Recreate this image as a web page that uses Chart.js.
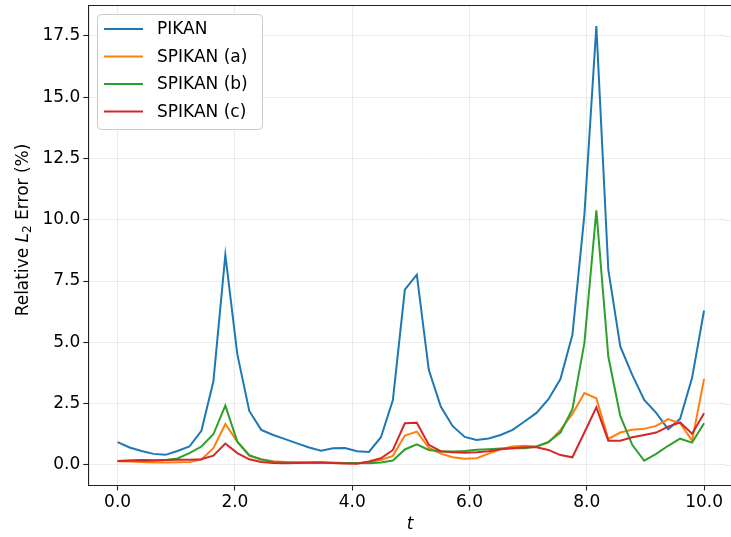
<!DOCTYPE html>
<html>
<head>
<meta charset="utf-8">
<script src="https://cdn.jsdelivr.net/npm/chart.js@4.4.1/dist/chart.umd.min.js"></script>
<style>
  html, body { margin: 0; padding: 0; background: #ffffff; overflow: hidden; }
  #wrap { width: 731px; height: 537px; position: relative; overflow: hidden; }
  canvas { display: block; }
</style>
</head>
<body>
<div id="wrap"><canvas id="c" width="760" height="537"></canvas></div>
<script>
// ---- data ----
const tValues = [0, 0.2041, 0.4082, 0.6122, 0.8163, 1.0204, 1.2245, 1.4286, 1.6327, 1.8367,
  2.0408, 2.2449, 2.4490, 2.6531, 2.8571, 3.0612, 3.2653, 3.4694, 3.6735, 3.8776,
  4.0816, 4.2857, 4.4898, 4.6939, 4.8980, 5.1020, 5.3061, 5.5102, 5.7143, 5.9184,
  6.1224, 6.3265, 6.5306, 6.7347, 6.9388, 7.1429, 7.3469, 7.5510, 7.7551, 7.9592,
  8.1633, 8.3673, 8.5714, 8.7755, 8.9796, 9.1837, 9.3878, 9.5918, 9.7959, 10.0];

const seriesNames = ["PIKAN", "SPIKAN (a)", "SPIKAN (b)", "SPIKAN (c)"];

const pikan = [0.93, 0.71, 0.57, 0.45, 0.41, 0.57, 0.75, 1.39, 3.40, 8.57,
  4.52, 2.20, 1.43, 1.22, 1.05, 0.88, 0.71, 0.58, 0.68, 0.69,
  0.56, 0.53, 1.13, 2.65, 7.15, 7.76, 3.88, 2.38, 1.58, 1.14,
  1.02, 1.08, 1.22, 1.43, 1.77, 2.12, 2.68, 3.50, 5.31, 10.20,
  17.90, 7.96, 4.83, 3.67, 2.65, 2.12, 1.45, 1.88, 3.55, 6.30];

const spikanA = [0.15, 0.14, 0.12, 0.10, 0.10, 0.11, 0.12, 0.22, 0.68, 1.67,
  0.95, 0.37, 0.23, 0.15, 0.12, 0.10, 0.10, 0.10, 0.08, 0.07,
  0.07, 0.12, 0.20, 0.37, 1.20, 1.36, 0.70, 0.46, 0.31, 0.25,
  0.27, 0.46, 0.64, 0.75, 0.78, 0.75, 0.91, 1.43, 2.08, 2.93,
  2.72, 1.06, 1.32, 1.43, 1.47, 1.59, 1.87, 1.70, 0.99, 3.51];

const spikanB = [0.16, 0.17, 0.18, 0.17, 0.20, 0.26, 0.48, 0.75, 1.25, 2.42,
  0.95, 0.40, 0.22, 0.12, 0.10, 0.10, 0.10, 0.10, 0.09, 0.08,
  0.08, 0.07, 0.10, 0.18, 0.63, 0.84, 0.61, 0.55, 0.55, 0.57,
  0.62, 0.64, 0.67, 0.68, 0.68, 0.75, 0.94, 1.32, 2.27, 4.97,
  10.38, 4.42, 2.00, 0.82, 0.17, 0.45, 0.78, 1.07, 0.91, 1.70];

const spikanC = [0.16, 0.18, 0.20, 0.19, 0.20, 0.21, 0.21, 0.23, 0.38, 0.87,
  0.48, 0.23, 0.12, 0.08, 0.07, 0.08, 0.09, 0.10, 0.08, 0.06,
  0.05, 0.14, 0.27, 0.61, 1.70, 1.72, 0.82, 0.56, 0.52, 0.50,
  0.52, 0.56, 0.64, 0.68, 0.72, 0.72, 0.61, 0.40, 0.31, 1.32,
  2.35, 0.99, 0.99, 1.13, 1.22, 1.32, 1.56, 1.73, 1.27, 2.11];

const xTickValues = [0, 2, 4, 6, 8, 10];
const xTickLabels = ["0.0", "2.0", "4.0", "6.0", "8.0", "10.0"];
const yTickValues = [0, 2.5, 5, 7.5, 10, 12.5, 15, 17.5];
const yTickLabels = ["0.0", "2.5", "5.0", "7.5", "10.0", "12.5", "15.0", "17.5"];

// ---- styling ----
const colors = ["#1f77b4", "#ff7f0e", "#2ca02c", "#d62728"];
const FONT = "DejaVu Sans";
const FS = 17;
const GRID = "#ebebeb";

const allSeries = [pikan, spikanA, spikanB, spikanC];
const datasets = allSeries.map((vals, k) => ({
  label: seriesNames[k],
  data: tValues.map((t, i) => ({ x: t, y: vals[i] })),
  borderColor: colors[k],
  backgroundColor: colors[k],
  borderWidth: 2,
  pointRadius: 0,
  tension: 0,
  fill: false,
  order: 4 - k
}));

const decorPlugin = {
  id: "decor",
  afterDraw(chart) {
    const ctx = chart.ctx;
    const a = chart.chartArea;
    const ys = chart.scales.y;
    ctx.save();
    // clean the strip at the visible right edge (the axes continue past the crop)
    ctx.fillStyle = "#ffffff";
    ctx.fillRect(726, a.top + 1, a.right - 726 + 2, a.bottom - a.top - 2);
    ctx.strokeStyle = GRID;
    ctx.lineWidth = 1;
    yTickValues.forEach(v => {
      const py = Math.round(ys.getPixelForValue(v)) + 0.5;
      ctx.beginPath();
      ctx.moveTo(725, py);
      ctx.lineTo(a.right, py);
      ctx.stroke();
    });

    // top spine
    ctx.strokeStyle = "#222";
    ctx.lineWidth = 1.1;
    ctx.beginPath();
    ctx.moveTo(a.left, a.top);
    ctx.lineTo(a.right, a.top);
    ctx.stroke();

    // legend
    const bx = 97.5, by = 14.5, bw = 165, bh = 115, r = 4;
    ctx.fillStyle = "rgba(255,255,255,0.85)";
    ctx.strokeStyle = "#cccccc";
    ctx.lineWidth = 1;
    ctx.beginPath();
    ctx.moveTo(bx + r, by);
    ctx.lineTo(bx + bw - r, by);
    ctx.arcTo(bx + bw, by, bx + bw, by + r, r);
    ctx.lineTo(bx + bw, by + bh - r);
    ctx.arcTo(bx + bw, by + bh, bx + bw - r, by + bh, r);
    ctx.lineTo(bx + r, by + bh);
    ctx.arcTo(bx, by + bh, bx, by + bh - r, r);
    ctx.lineTo(bx, by + r);
    ctx.arcTo(bx, by, bx + r, by, r);
    ctx.closePath();
    ctx.fill();
    ctx.stroke();
    ctx.font = FS + "px '" + FONT + "'";
    ctx.textBaseline = "middle";
    ctx.textAlign = "left";
    chart.data.datasets.forEach((ds, i) => {
      const y = 29 + i * 27.5;
      ctx.strokeStyle = ds.borderColor;
      ctx.lineWidth = 2;
      ctx.beginPath();
      ctx.moveTo(104, y);
      ctx.lineTo(143, y);
      ctx.stroke();
      ctx.fillStyle = "#000";
      ctx.fillText(ds.label, 157, y + 1);
    });

    // x axis title (italic t)
    ctx.fillStyle = "#000";
    ctx.font = "italic " + FS + "px '" + FONT + "'";
    ctx.textAlign = "center";
    ctx.textBaseline = "middle";
    ctx.fillText("t", 410, 525);

    // y axis title: Relative L_2 Error (%)
    const parts = [
      { text: "Relative ", font: FS + "px '" + FONT + "'", dy: 0 },
      { text: "L", font: "italic " + FS + "px '" + FONT + "'", dy: 0 },
      { text: "2", font: "12px '" + FONT + "'", dy: 4 },
      { text: " Error (%)", font: FS + "px '" + FONT + "'", dy: 0 }
    ];
    let total = 0;
    parts.forEach(p => { ctx.font = p.font; p.w = ctx.measureText(p.text).width; total += p.w; });
    ctx.translate(24, 230);
    ctx.rotate(-Math.PI / 2);
    ctx.textAlign = "left";
    ctx.textBaseline = "middle";
    let xx = -total / 2;
    parts.forEach(p => {
      ctx.font = p.font;
      ctx.fillText(p.text, xx, p.dy);
      xx += p.w;
    });
    ctx.restore();
  }
};

new Chart(document.getElementById("c"), {
  type: "line",
  data: { datasets: datasets },
  options: {
    responsive: false,
    animation: false,
    devicePixelRatio: 1,
    layout: { padding: { top: 5.5, right: 0, left: 0, bottom: 0 } },
    plugins: { legend: { display: false }, tooltip: { enabled: false } },
    scales: {
      x: {
        type: "linear",
        min: -0.5,
        max: 10.954,
        afterFit(scale) {
          scale.height = 51.5;
          scale.paddingLeft = 0; scale.paddingRight = 0;
          scale.paddingTop = 0; scale.paddingBottom = 0;
        },
        afterBuildTicks(scale) { scale.ticks = xTickValues.map(v => ({ value: v })); },
        ticks: {
          callback(v) { const i = xTickValues.indexOf(v); return i >= 0 ? xTickLabels[i] : ""; },
          font: { family: FONT, size: FS },
          color: "#000",
          padding: 2,
          maxRotation: 0,
          autoSkip: false
        },
        grid: { color: GRID, lineWidth: 1, tickLength: 5, tickColor: "#222", tickWidth: 1.1 },
        border: { display: true, color: "#222", width: 1.1 }
      },
      y: {
        type: "linear",
        min: -0.84,
        max: 18.74,
        afterFit(scale) {
          scale.width = 88.3;
          scale.paddingTop = 0; scale.paddingBottom = 0;
          scale.paddingLeft = 0; scale.paddingRight = 0;
        },
        afterBuildTicks(scale) { scale.ticks = yTickValues.map(v => ({ value: v })); },
        ticks: {
          callback(v) { const i = yTickValues.indexOf(v); return i >= 0 ? yTickLabels[i] : ""; },
          font: { family: FONT, size: FS },
          color: "#000",
          padding: 3,
          autoSkip: false
        },
        grid: { color: GRID, lineWidth: 1, tickLength: 5, tickColor: "#222", tickWidth: 1.1 },
        border: { display: true, color: "#222", width: 1.1 }
      }
    }
  },
  plugins: [decorPlugin]
});
</script>
</body>
</html>
